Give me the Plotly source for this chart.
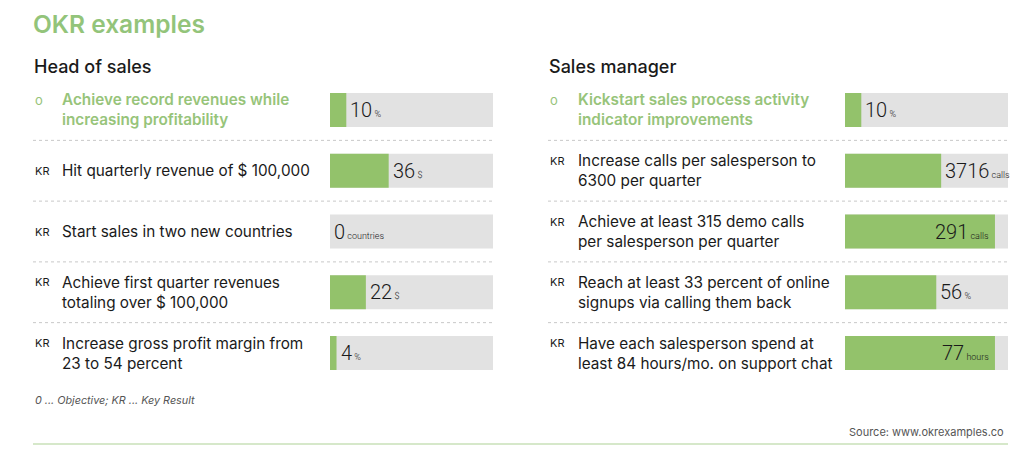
import plotly.graph_objects as go

# ---------------- data ----------------
left_header = "Head of sales"
left_kinds = ["o", "KR", "KR", "KR", "KR"]
left_labels = [
    "Achieve record revenues while<br>increasing profitability",
    "Hit quarterly revenue of $ 100,000",
    "Start sales in two new countries",
    "Achieve first quarter revenues<br>totaling over $ 100,000",
    "Increase gross profit margin from<br>23 to 54 percent",
]
left_values = [10, 36, 0, 22, 4]
left_units = ["%", "$", "countries", "$", "%"]
left_progress = [10, 36, 0, 22, 4]

right_header = "Sales manager"
right_kinds = ["o", "KR", "KR", "KR", "KR"]
right_labels = [
    "Kickstart sales process activity<br>indicator improvements",
    "Increase calls per salesperson to<br>6300 per quarter",
    "Achieve at least 315 demo calls<br>per salesperson per quarter",
    "Reach at least 33 percent of online<br>signups via calling them back",
    "Have each salesperson spend at<br>least 84 hours/mo. on support chat",
]
right_values = [10, 3716, 291, 56, 77]
right_units = ["%", "calls", "calls", "%", "hours"]
right_progress = [10, 59, 92, 56, 92]

# ---------------- style ----------------
OFF = 8                      # page body margin of the browser
W, H = 1024 - OFF, 458 - OFF - 8
GREEN = "#93c26b"
TITLE_GREEN = "#93c47a"
OBJ_GREEN = "#97c47a"
TRACK = "#e2e2e2"
TEXT = "#1a1a1a"
FONT = "Inter, Liberation Sans, Arial, sans-serif"
HAND = "Roboto, Liberation Sans, sans-serif"


def px_x(p):
    return (p - OFF) / W


def px_y(p):
    return 1 - (p - OFF) / H


rows = list(range(5))
row_top_px, row_bot_px = 79.6, 383.4  # spans of y range [-0.5, 4.5]

fig = go.Figure()

panels = [
    dict(xa="x", kinds=left_kinds, labels=left_labels, values=left_values,
         units=left_units, prog=left_progress, x0=33, tx=60, header=left_header,
         bar0=330, bar1=493),
    dict(xa="x2", kinds=right_kinds, labels=right_labels, values=right_values,
         units=right_units, prog=right_progress, x0=548, tx=576, header=right_header,
         bar0=845, bar1=1008),
]

annotations = []
shapes = []

for pnl in panels:
    fig.add_trace(go.Bar(
        x=[100] * len(rows), y=rows, orientation="h", width=0.557,
        marker=dict(color=TRACK, line=dict(width=0)), xaxis=pnl["xa"], yaxis="y",
        hoverinfo="skip", showlegend=False))
    fig.add_trace(go.Bar(
        x=pnl["prog"], y=rows, orientation="h", width=0.557,
        marker=dict(color=GREEN, line=dict(width=0)), xaxis=pnl["xa"], yaxis="y",
        hoverinfo="skip", showlegend=False))

    annotations.append(dict(
        text=pnl["header"], x=px_x(pnl["x0"] - 1), y=px_y(67), xref="paper", yref="paper",
        xanchor="left", yanchor="middle", showarrow=False,
        font=dict(family=FONT, size=18, color=TEXT, weight=500)))

    for i in rows:
        is_obj = pnl["kinds"][i] == "o"
        two_lines = "<br>" in pnl["labels"][i]
        col = OBJ_GREEN if is_obj else TEXT
        annotations.append(dict(
            text=pnl["labels"][i],
            x=px_x(pnl["tx"]), y=i, xref="paper", yref="y",
            xanchor="left", yanchor="middle", align="left", showarrow=False,
            font=dict(family=FONT, size=15.3, color=col, weight=600 if is_obj else 400)))
        annotations.append(dict(
            text="o" if is_obj else pnl["kinds"][i],
            x=px_x(pnl["x0"]), y=i, xref="paper", yref="y",
            xanchor="left", yanchor="middle", showarrow=False,
            yshift=10 if two_lines else 0,
            font=dict(family=FONT, size=13 if is_obj else 11, color=col)))
        p = pnl["prog"][i]
        inside = p > 85
        annotations.append(dict(
            text="%d<span style='font-size:9px'> %s</span>" % (pnl["values"][i], pnl["units"][i]),
            x=p, y=i, xref=pnl["xa"], yref="y",
            xanchor="right" if inside else "left", yanchor="middle", showarrow=False,
            xshift=-4 if inside else 2,
            font=dict(family=HAND, size=20, color=TEXT, weight=300)))
        if i < 4:
            shapes.append(dict(
                type="line", xref="paper", yref="y", x0=px_x(pnl["x0"]), x1=px_x(pnl["bar1"]),
                y0=i + 0.5, y1=i + 0.5, line=dict(color="#c8c8c8", width=1, dash="dot")))

annotations.append(dict(
    text="OKR examples", x=px_x(32), y=1, xref="paper", yref="paper",
    xanchor="left", yanchor="top", showarrow=False, borderpad=0,
    font=dict(family=FONT, size=24.5, color=TITLE_GREEN, weight=600)))
annotations.append(dict(
    text="<i>0 ... Objective; KR ... Key Result</i>", x=px_x(33), y=px_y(400),
    xref="paper", yref="paper", xanchor="left", yanchor="middle", showarrow=False,
    font=dict(family=FONT, size=10.8, color="#555555")))
annotations.append(dict(
    text="Source: www.okrexamples.co", x=px_x(1006), y=px_y(432),
    xref="paper", yref="paper", xanchor="right", yanchor="middle", showarrow=False,
    font=dict(family=FONT, size=11, color="#555555")))
shapes.append(dict(type="line", xref="paper", yref="paper", x0=px_x(33), x1=px_x(1008),
                   y0=px_y(444), y1=px_y(444), line=dict(color="#c9e0b8", width=1.5)))

fig.update_layout(
    width=W, height=H, margin=dict(l=0, r=0, t=0, b=0),
    paper_bgcolor="white", plot_bgcolor="white", barmode="overlay",
    xaxis=dict(domain=[px_x(330), px_x(493)], range=[0, 100], visible=False, fixedrange=True),
    xaxis2=dict(domain=[px_x(845), px_x(1008)], range=[0, 100], visible=False, fixedrange=True,
                anchor="y"),
    yaxis=dict(domain=[px_y(row_bot_px), px_y(row_top_px)], range=[4.5, -0.5],
               visible=False, fixedrange=True),
    annotations=annotations, shapes=shapes, showlegend=False,
)

fig.write_html("out.html", config={"displayModeBar": False})
